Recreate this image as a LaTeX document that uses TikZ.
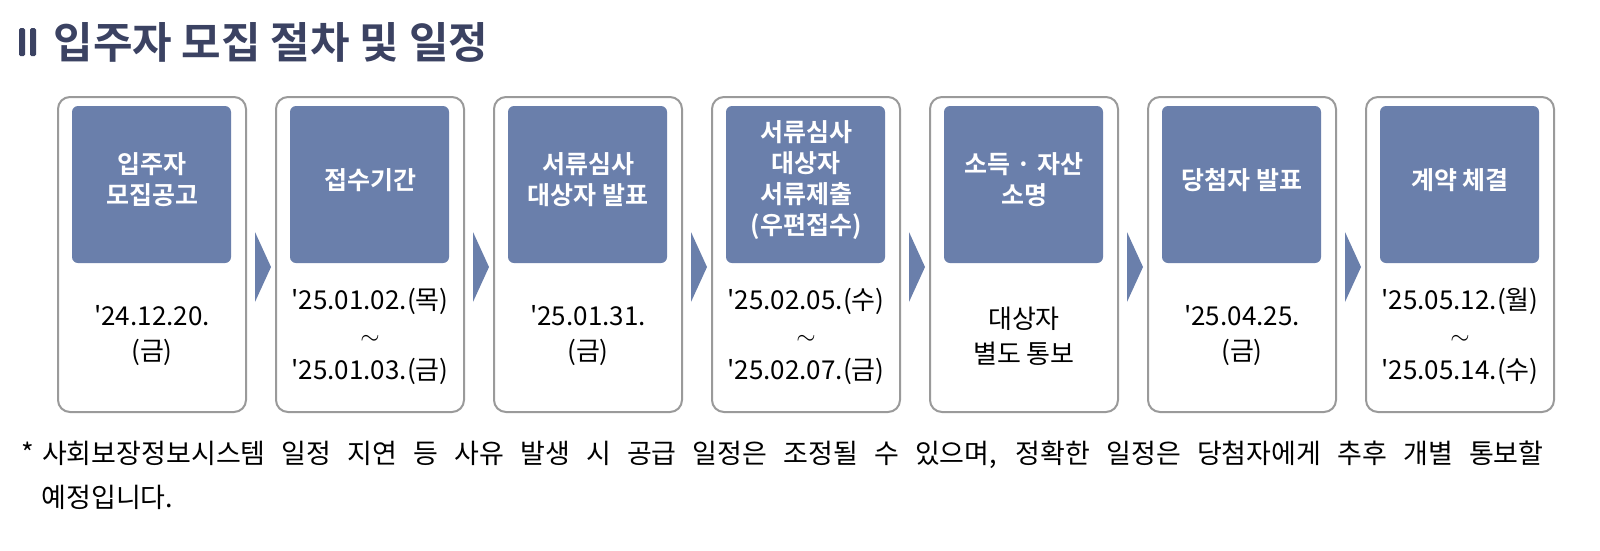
\documentclass[tikz,border=0pt]{standalone}
\usepackage{fontspec}
\newfontfamily\kr{Noto Sans CJK KR}
\newfontfamily\krb{Noto Sans CJK KR Bold}
\definecolor{navy}{HTML}{3B4262}
\definecolor{boxblue}{HTML}{6A7FAB}
\definecolor{cardgray}{HTML}{9A9A9A}
\begin{document}
\begin{tikzpicture}[x=1pt,y=-1pt,
 card/.style={draw=cardgray,line width=2pt,rounded corners=12pt,fill=white},
 head/.style={fill=boxblue,rounded corners=6pt},
 headtxt/.style={text=white,font=\krb\fontsize{25}{31}\selectfont,align=center},
 datetxt/.style={text=black,font=\kr\fontsize{26}{35}\selectfont,align=center},
 chev/.style={fill=boxblue}]
\useasboundingbox (0,0) rectangle (1600,550);
\fill[navy,rounded corners=1.5pt] (19,28) rectangle (25,56);
\fill[navy,rounded corners=1.5pt] (30,28) rectangle (36,56);
\node[anchor=west,text=navy,font=\krb\fontsize{43}{46}\selectfont] (ttl) at (50,42) {입주자 모집 절차 및 일정};
\foreach \i/\h/\d in {
 0/{입주자\\모집공고}/{'24.12.20.\\(금)},
 1/{접수기간}/{'25.01.02.(목)\\$\sim$\\'25.01.03.(금)},
 2/{서류심사\\대상자 발표}/{'25.01.31.\\(금)},
 3/{서류심사\\대상자\\서류제출\\(우편접수)}/{'25.02.05.(수)\\$\sim$\\'25.02.07.(금)},
 4/{소득 · 자산\\소명}/{대상자\\별도 통보},
 5/{당첨자 발표}/{'25.04.25.\\(금)},
 6/{계약 체결}/{'25.05.12.(월)\\$\sim$\\'25.05.14.(수)}} {
  \pgfmathsetmacro{\xo}{58+218*\i}
  \draw[card] (\xo,97) rectangle ++(188,315);
  \fill[head] (\xo+14,106) rectangle ++(159,157);
  \node[headtxt] (h\i) at (\xo+94,180) {\h};
  \node[datetxt] (d\i) at (\xo+94,336) {\d};
  \ifnum\i<6
   \fill[chev] (\xo+197,232) -- (\xo+213,267) -- (\xo+197,302) -- cycle;
  \fi
 }
\node[anchor=west,text=black,font=\kr\fontsize{27}{30}\selectfont] (note1) at (18,455)
 {\makebox[1522pt][s]{*\hspace{8pt}사회보장정보시스템 일정 지연 등 사유 발생 시 공급 일정은 조정될 수 있으며, 정확한 일정은 당첨자에게 추후 개별 통보할}};
\node[anchor=west,text=black,font=\kr\fontsize{27}{30}\selectfont] (note2) at (38,497) {예정입니다.};
\end{tikzpicture}
\end{document}
